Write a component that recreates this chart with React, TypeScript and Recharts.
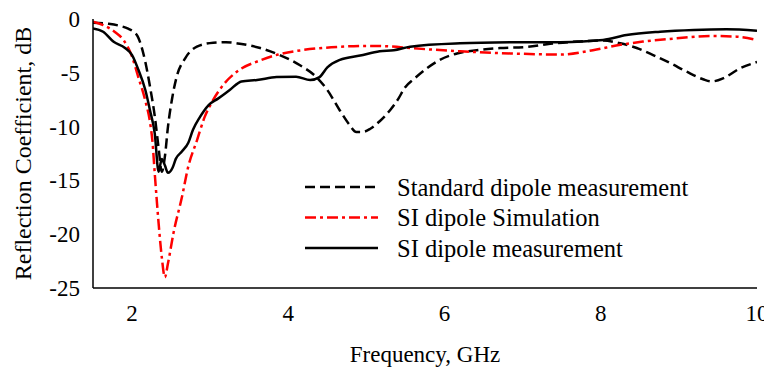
import React from 'react';
import { LineChart, Line, XAxis, YAxis } from 'recharts';

// [GHz, dB]
const standardMeasured: [number, number][] = [
  [1.5, -0.35], [1.7, -0.45], [1.85, -0.65], [1.95, -0.9], [2.02, -1.2], [2.07, -1.6],
  [2.1, -2.1], [2.17, -4.0], [2.23, -6.3], [2.29, -9.0], [2.34, -12.0], [2.38, -14.2],
  [2.42, -12.8], [2.46, -10.0], [2.51, -7.5], [2.57, -5.4], [2.68, -3.65], [2.83, -2.57],
  [3.04, -2.2], [3.2, -2.15], [3.38, -2.3], [3.64, -2.7], [3.89, -3.35], [4.15, -4.3],
  [4.36, -5.4], [4.5, -6.6], [4.66, -8.5], [4.78, -9.8], [4.87, -10.5], [4.95, -10.5],
  [5.05, -10.2], [5.17, -9.5], [5.3, -8.5], [5.41, -7.4], [5.49, -6.4], [5.62, -5.5],
  [5.77, -4.6], [5.94, -3.8], [6.16, -3.2], [6.41, -2.9], [6.71, -2.7], [7.05, -2.6],
  [7.35, -2.3], [7.7, -2.1], [8.03, -2.0], [8.25, -2.26], [8.46, -2.7], [8.67, -3.35],
  [8.89, -4.1], [9.1, -4.9], [9.31, -5.6], [9.42, -5.8], [9.57, -5.5], [9.78, -4.6],
  [10.0, -4.0],
];

const siSimulation: [number, number][] = [
  [1.5, -0.25], [1.63, -0.56], [1.78, -1.2], [1.89, -1.95], [2.0, -3.5], [2.08, -5.4],
  [2.17, -7.6], [2.23, -9.6], [2.26, -11.3], [2.29, -14.3], [2.34, -19.0], [2.38, -22.1],
  [2.42, -24.0], [2.46, -22.7], [2.53, -19.9], [2.64, -16.5], [2.72, -13.7], [2.83, -11.3],
  [2.93, -9.1], [3.04, -7.5], [3.17, -6.1], [3.36, -4.8], [3.62, -3.9], [3.87, -3.3],
  [4.17, -2.9], [4.55, -2.63], [5.0, -2.5], [5.3, -2.55], [5.56, -2.7], [6.2, -3.0],
  [6.84, -3.2], [7.48, -3.3], [7.9, -2.9], [8.25, -2.4], [8.54, -2.1], [8.97, -1.8],
  [9.4, -1.58], [9.74, -1.64], [10.0, -1.95],
];

const siMeasured: [number, number][] = [
  [1.5, -0.87], [1.63, -1.18], [1.76, -2.1], [1.91, -2.7], [2.0, -3.35], [2.08, -4.7],
  [2.17, -6.6], [2.23, -8.5], [2.29, -10.6], [2.34, -14.2], [2.38, -13.0], [2.42, -13.6],
  [2.46, -14.3], [2.52, -13.8], [2.56, -13.0], [2.64, -12.3], [2.72, -11.5], [2.78, -10.3],
  [2.87, -9.1], [2.98, -8.0], [3.1, -7.4], [3.25, -6.6], [3.4, -5.8], [3.6, -5.67],
  [3.85, -5.4], [4.1, -5.36], [4.28, -5.67], [4.4, -5.4], [4.5, -4.5], [4.66, -3.8],
  [4.92, -3.4], [5.17, -3.0], [5.35, -2.9], [5.56, -2.57], [6.2, -2.26], [6.84, -2.17],
  [7.48, -2.15], [8.03, -1.95], [8.33, -1.49], [8.76, -1.18], [9.19, -1.02], [9.61, -0.96],
  [10.0, -1.09],
];

const xTicks = [2, 4, 6, 8, 10];
const yTicks = [-25, -20, -15, -10, -5, 0];

const seriesNames = ['Standard dipole measurement', 'SI dipole Simulation', 'SI dipole measurement'];

const FONT = '"Liberation Serif", "Times New Roman", serif';

const toPoints = (rows: [number, number][]) => rows.map(([f, db]) => ({ f, db }));

const series = [
  { name: seriesNames[0], data: toPoints(standardMeasured), color: '#000000', dash: '10 5' },
  { name: seriesNames[1], data: toPoints(siSimulation), color: '#ff0000', dash: '11 4 3 4' },
  { name: seriesNames[2], data: toPoints(siMeasured), color: '#000000', dash: undefined },
];

const XTick = (props: any) => {
  const { x, y, payload } = props;
  return (
    <text x={x} y={y} dy="0.71em" textAnchor="middle" fontFamily={FONT} fontSize={23} fill="#000">
      {payload.value}
    </text>
  );
};

const YTick = (props: any) => {
  const { x, y, payload } = props;
  return (
    <text x={x} y={y} dy="0.35em" textAnchor="end" fontFamily={FONT} fontSize={23} fill="#000">
      {payload.value}
    </text>
  );
};

// legend drawn over the plot, outside recharts' layout
const LegendBox = () => (
  <svg
    width={420}
    height={100}
    style={{ position: 'absolute', left: 296, top: 164, display: 'block', pointerEvents: 'none' }}
  >
    {series.map((s, i) => (
      <g key={s.name}>
        <line
          x1={1}
          x2={74}
          y1={15 + i * 30.5}
          y2={15 + i * 30.5}
          stroke={s.color}
          strokeWidth={2.5}
          strokeDasharray={s.dash}
        />
        <text x={93} y={15 + i * 30.5} dy="0.35em" fontFamily={FONT} fontSize={24.5} fill="#000">
          {s.name}
        </text>
      </g>
    ))}
  </svg>
);

const App: React.FC = () => {
  return (
    <div style={{ position: 'relative', width: 764, height: 360, fontFamily: FONT }}>
      <LineChart
        width={764}
        height={360}
        margin={{ top: 11, right: 15, left: 0, bottom: 0 }}
        style={{ fontFamily: FONT }}
      >
        <XAxis
          type="number"
          dataKey="f"
          domain={[1.5, 10]}
          ticks={xTicks}
          allowDataOverflow
          height={80}
          tickLine={false}
          tickMargin={11}
          axisLine={{ stroke: '#000', strokeWidth: 1.5 }}
          tick={<XTick />}
          label={{
            value: 'Frequency, GHz',
            position: 'insideBottom',
            offset: 6,
            style: { fill: '#000', fontSize: 23, fontFamily: FONT },
          }}
        />
        <YAxis
          type="number"
          dataKey="db"
          domain={[-25, 0]}
          ticks={yTicks}
          allowDataOverflow
          width={85}
          tickLine={false}
          tickMargin={7}
          axisLine={{ stroke: '#000', strokeWidth: 1.5 }}
          tick={<YTick />}
          label={{
            value: 'Reflection Coefficient, dB',
            angle: -90,
            position: 'insideLeft',
            offset: 14,
            style: { fill: '#000', fontSize: 24, fontFamily: FONT, textAnchor: 'middle' },
          }}
        />
        {series.map((s) => (
          <Line
            key={s.name}
            name={s.name}
            data={s.data}
            dataKey="db"
            type="monotone"
            stroke={s.color}
            strokeWidth={2.5}
            strokeDasharray={s.dash}
            dot={false}
            activeDot={false}
            isAnimationActive={false}
          />
        ))}
      </LineChart>
      <LegendBox />
    </div>
  );
};

export default App;
